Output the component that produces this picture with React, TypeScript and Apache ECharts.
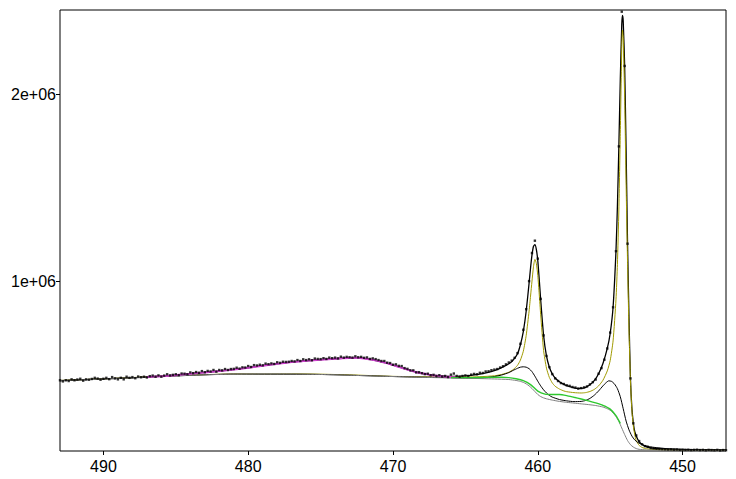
import React, { useEffect, useRef } from 'react';
import * as echarts from 'echarts';

// values in thousands of counts
const UNIT = 1000;
const xTicks = [490, 480, 470, 460, 450];
const yTicks = [1000000, 2000000];
const yTickLabels = ['1e+06', '2e+06'];
const xMin = 447;
const xMax = 493;
const yMin = 92000;
const yMax = 2449000;

// raw spectrum: binding energy from 493.0 down to 447.0, step 0.2 eV
const rawStart = 493;
const rawStep = 0.2;
const rawCounts = [
  470, 464, 470, 466, 475, 470, 474, 478, 468, 475,
  473, 477, 483, 479, 473, 478, 483, 476, 487, 480,
  475, 483, 475, 489, 483, 487, 481, 490, 486, 489,
  485, 492, 495, 489, 496, 489, 495, 502, 496, 499,
  502, 497, 506, 505, 502, 512, 508, 514, 510, 519,
  513, 520, 517, 525, 516, 525, 523, 530, 525, 530,
  531, 537, 532, 539, 538, 546, 541, 551, 549, 553,
  550, 559, 556, 560, 557, 566, 563, 569, 568, 569,
  573, 571, 578, 573, 582, 578, 582, 577, 586, 584,
  583, 588, 584, 591, 588, 591, 587, 596, 591, 595,
  593, 591, 598, 593, 595, 590, 592, 584, 587, 583,
  578, 573, 573, 564, 562, 553, 555, 547, 546, 535,
  531, 523, 523, 512, 513, 508, 503, 505, 497, 499,
  493, 497, 490, 493, 487, 500, 506, 493, 489, 493,
  496, 493, 500, 504, 502, 510, 509, 517, 518, 524,
  527, 530, 538, 545, 555, 565, 575, 590, 615, 665,
  740, 850, 1000, 1150, 1216, 1120, 905, 710, 600, 540,
  503, 480, 466, 455, 450, 443, 440, 434, 431, 425,
  428, 432, 437, 448, 460, 474, 505, 535, 580, 640,
  725, 860, 1160, 1720, 2440, 2150, 1200, 480, 240, 175,
  145, 128, 118, 114, 108, 106, 104, 103, 102, 101,
  100, 101, 99, 100, 98, 99, 98, 99, 97, 98,
  99, 97, 98, 96, 98, 97, 96, 98, 95, 97,
  96,
];

const envelope = [
  [493, 468], [487, 487], [486, 492], [485, 497], [484, 505], [483, 512], [482, 519], [481, 527],
  [480, 537], [479, 548], [478, 558], [477, 567], [476, 574], [475, 580], [474, 585], [473, 589],
  [472.5, 590], [472, 587], [471.5, 581], [471, 573], [470.5, 563], [470, 551], [469.5, 539],
  [469, 527], [468.5, 516], [468, 507], [467.5, 500], [467, 495], [466.5, 492], [466, 491],
  [465.5, 491], [465, 493], [464.5, 497], [464, 503], [463.5, 511], [463, 522], [462.5, 538],
  [462, 558], [461.7, 578], [461.4, 612], [461.2, 660], [461, 730], [460.8, 840], [460.6, 990],
  [460.5, 1070], [460.4, 1140], [460.3, 1185], [460.2, 1195], [460.1, 1170], [460, 1110],
  [459.9, 1010], [459.8, 900], [459.6, 710], [459.4, 600], [459.2, 540], [459, 505], [458.8, 482],
  [458.5, 462], [458.2, 448], [458, 441], [457.5, 430], [457.2, 427], [457, 427], [456.7, 432],
  [456.4, 446], [456.1, 468], [455.8, 505], [455.5, 560], [455.2, 640], [455, 720], [454.8, 860],
  [454.6, 1160], [454.5, 1400], [454.4, 1720], [454.3, 2080], [454.2, 2370], [454.15, 2420],
  [454.1, 2390], [454, 2150], [453.9, 1700], [453.8, 1200], [453.7, 800], [453.6, 480],
  [453.5, 320], [453.4, 240], [453.3, 195], [453.1, 155], [452.9, 133], [452.6, 118], [452.2, 109],
  [451.7, 104], [451, 101], [450, 99], [449, 98], [447, 97],
];

const background = [
  [493, 468], [491, 474], [489, 480], [487, 487], [485, 494], [483, 499], [481, 503], [479, 505],
  [477, 504], [475, 501], [473, 497], [471, 492], [469, 488], [467, 484], [465, 481], [463, 477],
  [462, 474], [461.5, 469], [461.2, 464], [461, 459], [460.8, 451], [460.6, 440], [460.4, 426],
  [460.2, 410], [460, 394], [459.8, 383], [459.6, 376], [459.4, 371], [459, 364], [458.5, 357],
  [458, 352], [457.5, 348], [457, 344], [456.5, 340], [456, 335], [455.5, 327], [455.2, 318],
  [455, 310], [454.8, 296], [454.6, 276], [454.4, 250], [454.2, 215], [454, 180], [453.8, 148],
  [453.6, 126], [453.4, 113], [453.2, 105], [453, 101], [452.5, 98], [452, 97], [450, 96], [447, 96],
];

const mainDoublet = [
  [493, 469], [489, 481], [485, 495], [481, 504], [477, 505], [473, 499], [470, 491], [467, 488],
  [465, 487], [464, 489], [463, 494], [462.5, 501], [462, 513], [461.7, 527], [461.4, 550],
  [461.2, 578], [461, 625], [460.8, 710], [460.6, 840], [460.5, 920], [460.4, 1000], [460.3, 1075],
  [460.2, 1116], [460.1, 1095], [460, 1030], [459.9, 930], [459.8, 820], [459.6, 630], [459.4, 535],
  [459.2, 485], [459, 456], [458.8, 438], [458.5, 423], [458.2, 413], [458, 409], [457.5, 404],
  [457, 402], [456.7, 404], [456.4, 410], [456.1, 421], [455.8, 440], [455.5, 470], [455.2, 520],
  [455, 575], [454.8, 680], [454.6, 900], [454.5, 1090], [454.4, 1380], [454.3, 1790], [454.2, 2250],
  [454.15, 2342], [454.1, 2300], [454, 1980], [453.9, 1520], [453.8, 1100], [453.7, 740],
  [453.6, 470], [453.5, 310], [453.4, 225], [453.3, 178], [453.2, 148], [453, 122], [452.8, 111],
  [452.5, 104], [452, 100], [451, 98], [450, 97], [447, 96],
];

const minorDoublet = [
  [493, 468], [487, 487], [481, 503], [475, 501], [469, 488], [466, 484], [465, 482], [464, 482],
  [463.5, 485], [463, 490], [462.5, 498], [462, 511], [461.7, 523], [461.4, 534], [461.2, 540],
  [461, 542], [460.8, 540], [460.6, 532], [460.4, 516], [460.2, 492], [460, 465], [459.8, 440],
  [459.6, 419], [459.4, 402], [459.2, 389], [459, 380], [458.5, 367], [458, 360], [457.5, 356],
  [457, 357], [456.7, 362], [456.4, 373], [456.1, 390], [455.8, 413], [455.5, 440], [455.3, 456],
  [455.1, 467], [454.9, 464], [454.7, 450], [454.5, 425], [454.3, 382], [454.1, 318], [453.9, 252],
  [453.7, 205], [453.5, 172], [453.3, 151], [453.1, 138], [452.9, 130], [452.6, 121], [452.2, 114],
  [451.7, 109], [451, 104], [450, 101], [449, 99], [447, 98],
];

const satelliteGreen = [
  [466, 484], [465, 484], [464, 485], [463, 486], [462.5, 486], [462, 484], [461.5, 478], [461, 468],
  [460.5, 447], [460, 412], [459.5, 396], [459, 394], [458.5, 394], [458, 388], [457.5, 379],
  [457, 370], [456.5, 360], [456, 349], [455.5, 336], [455, 316], [454.6, 281], [454.3, 240],
];

const satelliteMagenta = [
  [487, 487], [486, 492], [485, 497], [484, 505], [483, 512], [482, 519], [481, 527], [480, 537],
  [479, 548], [478, 558], [477, 567], [476, 574], [475, 580], [474, 585], [473, 589], [472.5, 590],
  [472, 587], [471.5, 581], [471, 573], [470.5, 563], [470, 551], [469.5, 539], [469, 527],
  [468.5, 516], [468, 507], [467.5, 500], [467, 494], [466.5, 490], [466, 487], [465.5, 485],
];

const toPoints = (arr: number[][]) => arr.map(([e, v]) => [e, v * UNIT]);

export default function App() {
  const ref = useRef<HTMLDivElement>(null);
  useEffect(() => {
    document.body.style.margin = '0';
    const chart = echarts.init(ref.current as HTMLDivElement, null, { renderer: 'svg' });
    const raw = rawCounts.map((v, i) => [Number((rawStart - i * rawStep).toFixed(2)), v * UNIT]);
    const lineBase = { type: 'line', showSymbol: false, smooth: 0.2, silent: true };
    const font = { fontFamily: 'Liberation Sans, Arial, sans-serif', fontSize: 16, color: '#000' };
    chart.setOption({
      animation: false,
      backgroundColor: '#fff',
      grid: {
        left: 60, right: 10, top: 10, bottom: 28,
        show: true, borderColor: '#000', borderWidth: 1, backgroundColor: '#fff',
      },
      xAxis: {
        type: 'value', min: xMin, max: xMax, inverse: true,
        axisLine: { show: false },
        splitLine: { show: false },
        axisTick: { show: true, customValues: xTicks, length: 4, lineStyle: { color: '#000' } },
        axisLabel: { ...font, customValues: xTicks, margin: 7, formatter: (v: number) => String(v) },
      },
      yAxis: {
        type: 'value', min: yMin, max: yMax,
        axisLine: { show: false },
        splitLine: { show: false },
        axisTick: { show: true, customValues: yTicks, length: 4, lineStyle: { color: '#000' } },
        axisLabel: {
          ...font, customValues: yTicks, margin: 4,
          formatter: (v: number) => { const i = yTicks.indexOf(v); return i >= 0 ? yTickLabels[i] : ''; },
        },
      },
      series: [
        { ...lineBase, name: 'Envelope', data: toPoints(envelope), z: 1, lineStyle: { color: '#000', width: 1.3 } },
        { ...lineBase, name: 'Main', data: toPoints(mainDoublet), z: 2, lineStyle: { color: '#a09a00', width: 1 } },
        { ...lineBase, name: 'Minor', data: toPoints(minorDoublet), z: 3, lineStyle: { color: '#000', width: 1 } },
        { ...lineBase, name: 'Background', data: toPoints(background), z: 4, lineStyle: { color: '#808080', width: 1 } },
        { ...lineBase, name: 'Satellite A', data: toPoints(satelliteMagenta), z: 5, lineStyle: { color: '#d040d0', width: 2 } },
        { ...lineBase, name: 'Satellite B', data: toPoints(satelliteGreen), z: 6, lineStyle: { color: '#2ec82e', width: 1.4 } },
        {
          type: 'scatter', name: 'Data', data: raw, z: 7, silent: true,
          symbol: 'rect', symbolSize: 2.4, itemStyle: { color: '#000' },
        },
      ],
    });
    return () => chart.dispose();
  }, []);
  return <div ref={ref} style={{ width: 736, height: 479 }} />;
}
